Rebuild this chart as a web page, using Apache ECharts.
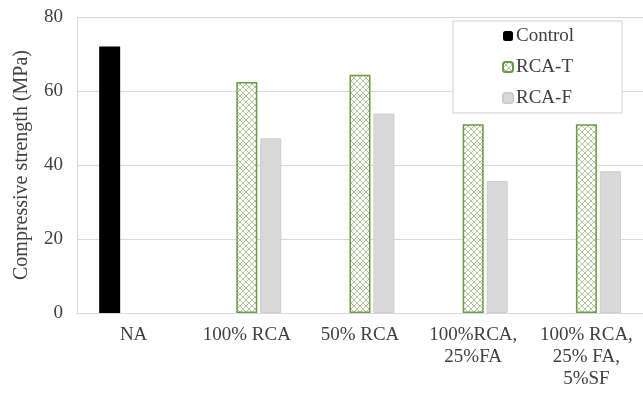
<!DOCTYPE html>
<html>
<head>
<meta charset="utf-8">
<script src="https://cdn.jsdelivr.net/npm/echarts@6/dist/echarts.min.js"></script>
<style>html,body{margin:0;padding:0;background:#fff;}#c{width:643px;height:393px;}</style>
</head>
<body>
<div id="c"></div>
<script>
var categories = ['NA', '100% RCA', '50% RCA', '100%RCA,\n25%FA', '100% RCA,\n25% FA,\n5%SF'];
var controlValues = [72, null, null, null, null];
var rcaTValues = [null, 62.4, 64.4, 51.0, 51.0];
var rcaFValues = [null, 47.2, 53.9, 35.7, 38.3];
var yTicks = [0, 20, 40, 60, 80];

function makePattern() {
  var c = document.createElement('canvas');
  c.width = 6; c.height = 6;
  var g = c.getContext('2d');
  g.fillStyle = '#ffffff';
  g.fillRect(0, 0, 6, 6);
  g.strokeStyle = '#b0c89c';
  g.lineWidth = 1;
  g.beginPath();
  g.moveTo(0, 0); g.lineTo(6, 6);
  g.moveTo(6, 0); g.lineTo(0, 6);
  g.stroke();
  return c;
}
var pattern = { image: makePattern(), repeat: 'repeat' };

var font = '"Liberation Serif", "Times New Roman", serif';
var chart = echarts.init(document.getElementById('c'));
chart.setOption({
  animation: false,
  textStyle: { fontFamily: font },
  grid: { left: 77, right: -3, top: 17, bottom: 80 },
  legend: {
    orient: 'vertical',
    left: 453, top: 21,
    padding: [5, 48, 5, 49],
    itemGap: 11,
    itemWidth: 10, itemHeight: 10,
    borderColor: '#d0d0d0', borderWidth: 1,
    backgroundColor: '#ffffff',
    textStyle: { fontFamily: font, fontSize: 19, color: '#404040', lineHeight: 20, padding: [0, 0, 0, -2] },
    data: ['Control', 'RCA-T', 'RCA-F']
  },
  xAxis: {
    type: 'category',
    data: categories,
    axisLine: { lineStyle: { color: '#d9d9d9' } },
    axisTick: { show: false },
    axisLabel: { fontFamily: font, fontSize: 19, color: '#404040', margin: 11, lineHeight: 22, interval: 0 }
  },
  yAxis: {
    type: 'value',
    min: yTicks[0], max: yTicks[yTicks.length - 1], interval: 20,
    name: 'Compressive strength (MPa)',
    nameLocation: 'middle',
    nameGap: 45,
    nameTextStyle: { fontFamily: font, fontSize: 20, color: '#404040' },
    axisLine: { show: true, lineStyle: { color: '#d9d9d9' } },
    axisTick: { show: false },
    splitLine: { lineStyle: { color: '#d9d9d9' } },
    axisLabel: { fontFamily: font, fontSize: 19, color: '#404040', margin: 14 }
  },
  series: [
    { name: 'Control', type: 'bar', data: controlValues, barWidth: 21, barGap: '14%',
      itemStyle: { color: '#000000' } },
    { name: 'RCA-T', type: 'bar', data: rcaTValues, barWidth: 21, barGap: '14%',
      itemStyle: { color: pattern, borderColor: '#6a9a45', borderWidth: 1.5 } },
    { name: 'RCA-F', type: 'bar', data: rcaFValues, barWidth: 21, barGap: '14%',
      itemStyle: { color: '#d9d9d9', borderColor: '#cccccc', borderWidth: 1 } }
  ]
});
</script>
</body>
</html>
